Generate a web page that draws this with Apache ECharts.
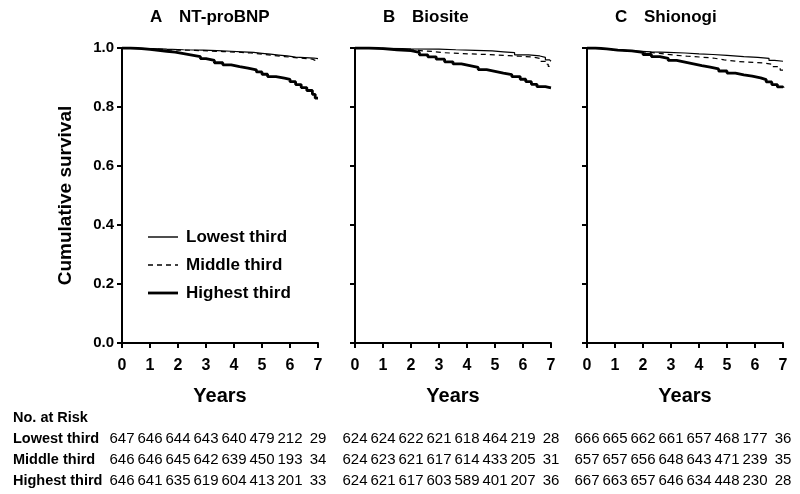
<!DOCTYPE html>
<html>
<head>
<meta charset="utf-8">
<script src="https://cdn.jsdelivr.net/npm/echarts@6/dist/echarts.min.js"></script>
<style>html,body{margin:0;padding:0;background:#fff}#c{width:800px;height:494px}</style>
</head>
<body>
<div id="c"></div>
<script>
// ---- data ----
const panelLetters = ['A', 'B', 'C'];
const panelNames = ['NT-proBNP', 'Biosite', 'Shionogi'];
const seriesNames = ['Lowest third', 'Middle third', 'Highest third'];
const yearTicks = [0, 1, 2, 3, 4, 5, 6, 7];

const A_low = [[0,1],[0.4,0.998],[1.1,0.996],[1.6,0.994],[2.2,0.993],[2.9,0.991],[3.4,0.989],[3.9,0.987],[4.3,0.985],[4.7,0.982],[5.0,0.979],[5.3,0.976],[5.6,0.973],[5.9,0.969],[6.2,0.966],[6.85,0.964],[7,0.964]];
const A_mid = [[0,1],[0.5,0.997],[1.0,0.995],[1.5,0.993],[2.0,0.992],[2.6,0.990],[3.1,0.988],[3.6,0.986],[4.1,0.983],[4.6,0.979],[5.0,0.975],[5.4,0.971],[5.8,0.968],[6.1,0.965],[6.5,0.962],[6.8,0.958],[6.9,0.952],[7,0.952]];
const A_high = [[0,1],[0.3,0.998],[0.7,0.995],[1.0,0.992],[1.3,0.989],[1.6,0.986],[1.9,0.981],[2.2,0.976],[2.5,0.971],[2.8,0.964],[3.0,0.958],[3.3,0.950],[3.6,0.943],[3.9,0.937],[4.2,0.932],[4.5,0.926],[4.8,0.919],[5.0,0.911],[5.2,0.903],[5.5,0.898],[5.8,0.894],[6.0,0.886],[6.2,0.876],[6.4,0.866],[6.6,0.856],[6.8,0.843],[6.9,0.83],[7,0.83]];

const B_low = [[0,1],[1.0,0.997],[2.0,0.996],[3.0,0.994],[3.6,0.992],[4.3,0.990],[4.9,0.987],[5.3,0.984],[5.7,0.977],[6.2,0.973],[6.6,0.968],[6.8,0.960],[6.95,0.955],[7,0.955]];
const B_mid = [[0,1],[0.9,0.996],[1.5,0.992],[2.2,0.988],[2.8,0.984],[3.2,0.981],[3.8,0.978],[4.7,0.974],[5.5,0.972],[5.9,0.970],[6.3,0.965],[6.6,0.955],[6.8,0.945],[6.9,0.938],[7,0.938]];
const B_high = [[0,1],[0.5,0.998],[1.0,0.994],[1.5,0.991],[2.0,0.985],[2.3,0.977],[2.6,0.970],[2.9,0.962],[3.2,0.953],[3.5,0.946],[3.8,0.940],[4.1,0.934],[4.4,0.927],[4.7,0.921],[5.0,0.915],[5.3,0.910],[5.6,0.903],[5.9,0.894],[6.1,0.886],[6.3,0.877],[6.5,0.869],[6.8,0.865],[7,0.865]];

const C_low = [[0,1],[0.3,0.997],[0.7,0.993],[1.1,0.990],[1.6,0.987],[2.3,0.985],[2.9,0.983],[3.5,0.980],[4.0,0.978],[4.5,0.975],[5.0,0.971],[5.6,0.968],[6.1,0.965],[6.5,0.958],[6.7,0.955],[7,0.955]];
const C_mid = [[0,1],[0.3,0.997],[0.7,0.993],[1.1,0.990],[1.6,0.986],[2.1,0.982],[2.6,0.976],[3.1,0.972],[3.6,0.969],[4.1,0.966],[4.5,0.960],[4.9,0.954],[5.4,0.951],[6.0,0.949],[6.3,0.945],[6.6,0.937],[6.9,0.925],[7,0.925]];
const C_high = [[0,1],[0.3,0.997],[0.7,0.993],[1.1,0.990],[1.6,0.985],[2.0,0.978],[2.3,0.971],[2.6,0.965],[2.9,0.958],[3.2,0.952],[3.5,0.946],[3.8,0.940],[4.1,0.935],[4.4,0.929],[4.7,0.922],[5.0,0.915],[5.3,0.909],[5.6,0.905],[5.9,0.899],[6.2,0.893],[6.4,0.885],[6.6,0.876],[6.8,0.868],[7,0.865]];

const riskTitle = 'No. at Risk';
const riskA = [[647,646,644,643,640,479,212,29],[646,646,645,642,639,450,193,34],[646,641,635,619,604,413,201,33]];
const riskB = [[624,624,622,621,618,464,219,28],[624,623,621,617,614,433,205,31],[624,621,617,603,589,401,207,36]];
const riskC = [[666,665,662,661,657,468,177,36],[657,657,656,648,643,471,239,35],[667,663,657,646,634,448,230,28]];

// ---- chart ----
const panelData = [[A_low, A_mid, A_high], [B_low, B_mid, B_high], [C_low, C_mid, C_high]];
const riskData = [riskA, riskB, riskC];
const FONT = '"Liberation Sans", Arial, sans-serif';
const gridLefts = [122, 355, 587];
const gridW = 196;

const chart = echarts.init(document.getElementById('c'), null, {renderer: 'canvas'});

const grids = gridLefts.map(l => ({left: l, width: gridW, top: 48, height: 295}));
const xAxes = grids.map((g, i) => ({
  type: 'value', gridIndex: i, min: 0, max: 7, interval: 1,
  name: 'Years', nameLocation: 'middle', nameGap: 43,
  nameTextStyle: {fontFamily: FONT, fontWeight: 'bold', fontSize: 20, color: '#000'},
  axisLine: {show: true, onZero: false, lineStyle: {color: '#000', width: 2}},
  axisTick: {show: true, length: 5, lineStyle: {color: '#000', width: 2}},
  axisLabel: {fontFamily: FONT, fontWeight: 'bold', fontSize: 16, color: '#000', margin: 15},
  splitLine: {show: false}
}));
const yAxes = grids.map((g, i) => ({
  type: 'value', gridIndex: i, min: 0, max: 1, interval: 0.2,
  name: i === 0 ? 'Cumulative survival' : '', nameLocation: 'middle', nameGap: 47, nameRotate: 90,
  nameTextStyle: {fontFamily: FONT, fontWeight: 'bold', fontSize: 19, color: '#000'},
  axisLine: {show: true, onZero: false, lineStyle: {color: '#000', width: 2}},
  axisTick: {show: true, length: 5, lineStyle: {color: '#000', width: 2}},
  axisLabel: {show: i === 0, fontFamily: FONT, fontWeight: 'bold', fontSize: 15, color: '#000', margin: 8,
    formatter: v => v.toFixed(1)},
  splitLine: {show: false}
}));
const styles = [
  {width: 1.2, type: 'solid'},
  {width: 1.2, type: [5, 4]},
  {width: 2.8, type: 'solid'}
];
const series = [];
panelData.forEach((pd, pi) => {
  pd.forEach((d, si) => {
    series.push({
      type: 'line', name: seriesNames[si], xAxisIndex: pi, yAxisIndex: pi,
      data: d, step: 'end', symbol: 'none', showSymbol: false, silent: true,
      lineStyle: {color: '#000', width: styles[si].width, type: styles[si].type},
      itemStyle: {color: '#000'},
      z: 3 - si
    });
  });
});

chart.setOption({
  animation: false,
  backgroundColor: '#fff',
  grid: grids, xAxis: xAxes, yAxis: yAxes, series
});

// titles, legend and risk table
const graphic = [];
panelLetters.forEach((L, i) => {
  const x0 = chart.convertToPixel({xAxisIndex: i}, 0);
  graphic.push({type: 'text', left: x0 + 28, top: 9, style: {text: L, font: 'bold 17px ' + FONT, fill: '#000'}});
  graphic.push({type: 'text', left: x0 + 57, top: 9, style: {text: panelNames[i], font: 'bold 17px ' + FONT, fill: '#000'}});
});
const legendY = [237, 265, 293];
seriesNames.forEach((n, si) => {
  graphic.push({type: 'line', shape: {x1: 148, y1: legendY[si], x2: 178, y2: legendY[si]},
    style: {stroke: '#000', lineWidth: styles[si].width + (si === 2 ? 0 : 0.2), lineDash: si === 1 ? [5, 4] : null}});
  graphic.push({type: 'text', x: 186, y: legendY[si], style: {text: n, font: 'bold 17px ' + FONT, fill: '#000', verticalAlign: 'middle'}});
});
const rowY = [439, 460, 481];
graphic.push({type: 'text', x: 13, y: 418, style: {text: riskTitle, font: 'bold 14.5px ' + FONT, fill: '#000', verticalAlign: 'middle'}});
seriesNames.forEach((n, r) => {
  graphic.push({type: 'text', x: 13, y: rowY[r], style: {text: n, font: 'bold 14.5px ' + FONT, fill: '#000', verticalAlign: 'middle'}});
});
riskData.forEach((rd, pi) => {
  rd.forEach((row, r) => {
    row.forEach((v, k) => {
      const px = chart.convertToPixel({xAxisIndex: pi}, yearTicks[k]);
      graphic.push({type: 'text', x: px, y: rowY[r], style: {text: String(v), font: '15px ' + FONT, fill: '#000', align: 'center', verticalAlign: 'middle'}});
    });
  });
});
chart.setOption({graphic});
</script>
</body>
</html>
